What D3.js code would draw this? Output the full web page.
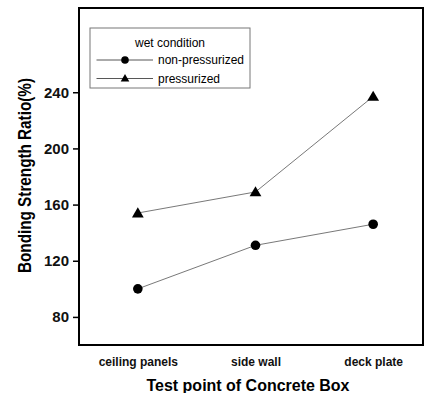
<!DOCTYPE html>
<html>
<head>
<meta charset="utf-8">
<script src="https://cdn.jsdelivr.net/npm/d3@7/dist/d3.min.js"></script>
<style>
  body { margin: 0; background: #fff; overflow: hidden; }
  svg { display: block; font-family: 'Liberation Sans', Arial, sans-serif; }
  .tick text { font-weight: bold; fill: #111; }
</style>
</head>
<body>
<div id="chart"></div>
<script>
const categories = ['ceiling panels', 'side wall', 'deck plate'];
const nonPressurized = [100, 131, 146];
const pressurized = [154, 169, 237];
const yTicks = [80, 120, 160, 200, 240];

const W = 424;
const H = 393;
const margin = { top: 8, right: -8, bottom: 48, left: 79 };
const width = W - margin.left - margin.right;
const height = H - margin.top - margin.bottom;

const svg = d3.select('#chart').append('svg')
  .attr('width', W)
  .attr('height', H);

const g = svg.append('g')
  .attr('transform', `translate(${margin.left}, ${margin.top})`);

const x = d3.scalePoint().domain(categories).range([0, width]).padding(0.5);
const y = d3.scaleLinear().domain([60, 300]).range([height, 0]);

// frame
const right = W - 1 - margin.left;
g.append('rect')
  .attr('x', 0).attr('y', 0)
  .attr('width', right).attr('height', height)
  .attr('fill', 'none')
  .attr('stroke', '#000').attr('stroke-width', 2);

// y axis
const yAxis = g.append('g')
  .call(d3.axisLeft(y).tickValues(yTicks).tickSize(6).tickPadding(4));
yAxis.select('.domain').remove();
yAxis.selectAll('.tick line').attr('stroke-width', 1.5);
yAxis.selectAll('.tick text').style('font-size', '15px');

// x axis labels
const xAxis = g.append('g')
  .attr('transform', `translate(0, ${height})`)
  .call(d3.axisBottom(x).tickSize(0).tickPadding(12));
xAxis.select('.domain').remove();
xAxis.selectAll('.tick text').style('font-size', '12px');

// axis titles
svg.append('text')
  .attr('text-anchor', 'middle')
  .attr('transform', 'translate(31, 175.5)rotate(-90)')
  .attr('font-weight', 'bold')
  .attr('font-size', 19)
  .attr('textLength', 195)
  .attr('lengthAdjust', 'spacingAndGlyphs')
  .text('Bonding Strength Ratio(%)');

svg.append('text')
  .attr('text-anchor', 'middle')
  .attr('x', 248)
  .attr('y', 391)
  .attr('font-weight', 'bold')
  .attr('font-size', 16.5)
  .attr('textLength', 203)
  .attr('lengthAdjust', 'spacingAndGlyphs')
  .text('Test point of Concrete Box');

const line = d3.line()
  .x((d, i) => x(categories[i]))
  .y(d => y(d));

const triangle = d3.symbol().type(d3.symbolTriangle);

// series
[nonPressurized, pressurized].forEach((vals) => {
  g.append('path')
    .datum(vals)
    .attr('d', line)
    .attr('fill', 'none')
    .attr('stroke', '#555')
    .attr('stroke-width', 0.8);
});

g.selectAll('.dot')
  .data(nonPressurized)
  .enter().append('circle')
  .attr('class', 'dot')
  .attr('cx', (d, i) => x(categories[i]))
  .attr('cy', d => y(d))
  .attr('r', 4.8)
  .attr('fill', '#000');

g.selectAll('.tri')
  .data(pressurized)
  .enter().append('path')
  .attr('class', 'tri')
  .attr('d', triangle.size(60))
  .attr('transform', (d, i) => `translate(${x(categories[i])}, ${y(d) + 1})`)
  .attr('fill', '#000');

// legend
const legend = svg.append('g').attr('transform', 'translate(90, 28)');
legend.append('rect')
  .attr('width', 160)
  .attr('height', 60)
  .attr('fill', '#fff')
  .attr('stroke', '#777')
  .attr('stroke-width', 1);
legend.append('text')
  .attr('x', 80)
  .attr('y', 19)
  .attr('text-anchor', 'middle')
  .attr('font-size', 12)
  .text('wet condition');

const items = [
  { label: 'non-pressurized', mark: 'circle' },
  { label: 'pressurized', mark: 'triangle' },
];
items.forEach((it, i) => {
  const row = legend.append('g').attr('transform', `translate(0, ${32 + i * 18.5})`);
  row.append('line')
    .attr('x1', 6.5).attr('x2', 63)
    .attr('stroke', '#444').attr('stroke-width', 0.9);
  if (it.mark === 'circle') {
    row.append('circle').attr('cx', 35).attr('r', 3.8).attr('fill', '#000');
  } else {
    row.append('path').attr('d', triangle.size(32)).attr('transform', 'translate(35, 0.5)').attr('fill', '#000');
  }
  row.append('text')
    .attr('x', 68)
    .attr('y', 4)
    .attr('font-size', 12)
    .text(it.label);
});
</script>
</body>
</html>
